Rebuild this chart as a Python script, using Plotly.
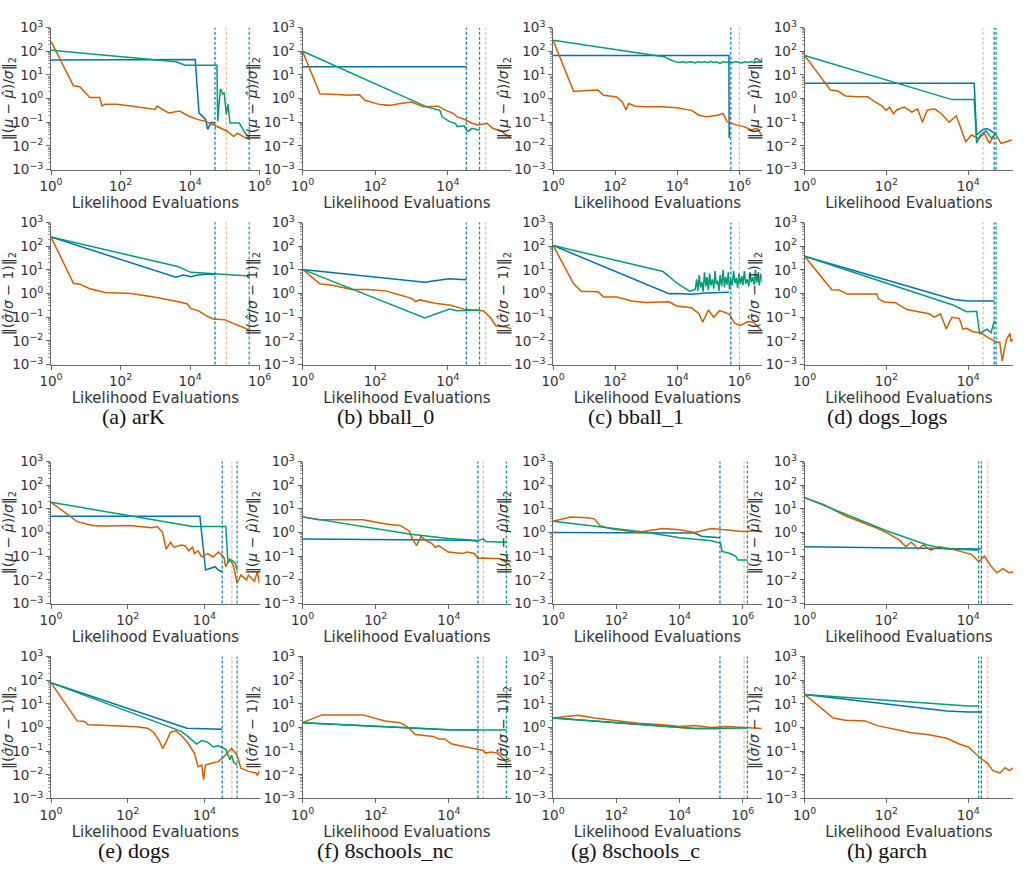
import plotly.graph_objects as go

W, H = 1034, 878
BLUE = '#0173b2'
ORANGE = '#d55e00'
GREEN = '#029e73'
DASH_COL = {'blue': '#0173b2', 'orange': 'rgba(213,94,0,0.45)', 'green': '#029e73'}

X_TICKS = [1, 1e2, 1e4, 1e6]
X_TICKTEXT = ['10<sup>0</sup>', '10<sup>2</sup>', '10<sup>4</sup>', '10<sup>6</sup>']
Y_TICKS = [1e-3, 1e-2, 1e-1, 1, 1e1, 1e2, 1e3]
Y_TICKTEXT = ['10<sup>−3</sup>', '10<sup>−2</sup>', '10<sup>−1</sup>', '10<sup>0</sup>',
              '10<sup>1</sup>', '10<sup>2</sup>', '10<sup>3</sup>']
X_LABEL = 'Likelihood Evaluations'
MU_LABEL = '‖(<i>μ</i> − <i>μ̂</i>)/<i>σ</i>‖<sub>2</sub>'
SD_LABEL = '‖(<i>σ̂</i>/<i>σ</i> − 1)‖<sub>2</sub>'

# ---------------- (a) arK ----------------
ark_mu_blue = [(1, 43), (1.4e4, 45), (1.8e4, 0.25), (2.8e4, 0.13), (3.2e4, 0.05), (4.0e4, 0.1), (5.2e4, 0.093)]
ark_mu_green = [(1, 110), (3.9e3, 36), (7.2e3, 26), (5.9e4, 26), (6.2e4, 0.11), (7.4e4, 2.6), (8.5e4, 1.6),
                (9.5e4, 1.8), (1.1e5, 0.21), (1.23e5, 0.58), (1.4e5, 0.093), (2.6e5, 0.093), (3.3e5, 0.05),
                (3.7e5, 0.037), (4.8e5, 0.025), (5.0e5, 0.022)]
ark_mu_orange = [(1, 263), (4.4, 3.5), (6.7, 3.2), (13, 1.12), (25, 1.12), (29, 0.49), (36, 0.58), (75, 0.58),
                 (200, 0.49), (420, 0.42), (1.0e3, 0.35), (1.1e3, 0.49), (2.4e3, 0.25), (5e3, 0.30),
                 (9.3e3, 0.18), (1.7e4, 0.13), (2.8e4, 0.11), (4.6e4, 0.079), (7.6e4, 0.058), (1.1e5, 0.044),
                 (1.8e5, 0.025), (2.3e5, 0.035), (3.3e5, 0.025), (5.4e5, 0.018)]
ark_sd_blue = [(1, 245), (3.9e3, 4.9), (6.3e3, 6.1), (1.05e4, 5.2), (1.7e4, 6.1), (2.8e4, 6.5), (5.2e4, 6.5)]
ark_sd_green = [(1, 245), (4.4e3, 13.8), (1.05e4, 7.9), (2.8e4, 7.2), (9.6e4, 6.1), (5.1e5, 5.5)]
ark_sd_orange = [(1, 245), (4.4, 2.7), (6.7, 2.5), (13, 1.6), (36, 1.1), (200, 1.0), (420, 0.85), (1.1e3, 0.68),
                 (3.9e3, 0.47), (8.1e3, 0.37), (1.05e4, 0.23), (1.7e4, 0.19), (2.8e4, 0.12), (4.6e4, 0.085),
                 (9.6e4, 0.079), (2e5, 0.051), (3.3e5, 0.037), (5.7e5, 0.027)]
ark_vlines = {'blue': 5.2e4, 'orange': 1.1e5, 'green': 5.0e5}

# ---------------- (b) bball_0 ----------------
bb0_mu_blue = [(1, 22), (3.2e4, 22)]
bb0_mu_green = [(1, 100), (2.6e3, 0.45), (6e3, 0.32), (6.9e3, 0.17), (1.1e4, 0.107), (1.6e4, 0.091),
                (1.8e4, 0.066), (2.8e4, 0.072), (3.2e4, 0.048), (3.6e4, 0.042), (4.6e4, 0.056), (7.4e4, 0.046)]
bb0_mu_orange = [(1, 100), (3.0, 1.6), (8.9, 1.5), (18, 1.4), (37, 1.45), (52, 0.85), (135, 0.56), (245, 0.52),
                 (500, 0.62), (1e3, 0.72), (2.1e3, 0.45), (5.4e3, 0.48), (8.7e3, 0.32), (1.4e4, 0.24),
                 (1.8e4, 0.17), (2.8e4, 0.135), (4.6e4, 0.091), (6.5e4, 0.078), (1.2e5, 0.091), (1.7e5, 0.056),
                 (3e5, 0.042), (4.4e5, 0.026), (5.5e5, 0.023)]
bb0_sd_blue = [(1, 10.5), (2.3e3, 3.0), (4.3e3, 3.5), (1.1e4, 4.2), (3.2e4, 3.8)]
bb0_sd_green = [(1, 10.5), (2.3e3, 0.093), (1.1e4, 0.22), (1.8e4, 0.19), (7.4e4, 0.2)]
bb0_sd_orange = [(1, 10.5), (3.0, 2.6), (7.0, 2.2), (23, 1.5), (59, 1.5), (195, 1.3), (500, 0.85), (1e3, 0.63),
                 (1.3e3, 0.46), (1.7e3, 0.54), (4.3e3, 0.39), (1.1e4, 0.33), (2.8e4, 0.22), (4.6e4, 0.2),
                 (9.3e4, 0.19), (1.5e5, 0.093), (2.1e5, 0.043), (3.5e5, 0.04), (5.5e5, 0.033)]
bb0_vlines = {'blue': 3.2e4, 'orange': 1.1e5, 'green': 7.4e4}

# ---------------- (c) bball_1 ----------------
bb1_mu_blue = [(1, 66), (4.6e5, 66), (4.7e5, 0.022), (4.8e5, 0.04), (5.0e5, 0.035)]
bb1_mu_green = [(1, 290), (4.1e3, 58), (5.4e3, 46), (9.5e3, 35), (1.2e4, 34), (1.5e4, 37), (1.9e4, 33),
                (2.4e4, 36), (3e4, 35), (3.8e4, 32), (4.8e4, 37), (6e4, 34), (7.6e4, 36), (9.5e4, 33),
                (1.2e5, 38), (1.5e5, 34), (1.9e5, 35), (2.4e5, 31), (3e5, 37), (3.8e5, 34), (4.8e5, 36),
                (6e5, 33), (7.6e5, 37), (9.5e5, 35), (1.2e6, 32), (1.5e6, 36), (1.9e6, 34), (2.4e6, 37),
                (3e6, 33), (3.8e6, 36), (4.8e6, 34), (5.5e6, 35)]
bb1_mu_orange = [(1, 290), (4.6, 2.0), (12, 2.2), (28, 2.3), (42, 1.4), (112, 1.17), (170, 0.72), (224, 0.33),
                 (270, 0.62), (450, 0.48), (1e3, 0.45), (3.1e3, 0.45), (9.5e3, 0.41), (2.9e4, 0.32),
                 (5e4, 0.2), (8.7e4, 0.17), (2e5, 0.2), (3e5, 0.24), (4e5, 0.107), (8e5, 0.078),
                 (1.4e6, 0.066), (2.4e6, 0.048), (3.7e6, 0.056), (5.2e6, 0.03)]
bb1_sd_blue = [(1, 107), (5.4e3, 0.98), (9.5e3, 1.0), (2.9e4, 0.93), (8.7e4, 1.05), (4.6e5, 1.15)]
bb1_sd_green = [(1, 107), (3.5e3, 8.5), (5.4e3, 5.3), (9.5e3, 2.8), (2.5e4, 1.26), (3.8e4, 1.5),
                (4.2e4, 4), (4.6e4, 1.3), (5.1e4, 6), (5.6e4, 1.8), (6.2e4, 3), (6.8e4, 1.2), (7.5e4, 8),
                (8.3e4, 2), (9.1e4, 5), (1.0e5, 1.4), (1.1e5, 7), (1.2e5, 2.2), (1.35e5, 4), (1.5e5, 1.6),
                (1.65e5, 9), (1.8e5, 2.5), (2.0e5, 3.5), (2.2e5, 1.3), (2.4e5, 6), (2.7e5, 2), (3.0e5, 10),
                (3.3e5, 1.8), (3.6e5, 5), (4.0e5, 2.4), (4.4e5, 8), (4.8e5, 1.5), (5.3e5, 4), (5.9e5, 2.2),
                (6.5e5, 9), (7.2e5, 2.8), (8.0e5, 4.5), (8.8e5, 1.7), (9.7e5, 7), (1.07e6, 2.5), (1.2e6, 5.5),
                (1.3e6, 2.2), (1.45e6, 9), (1.6e6, 2.6), (1.8e6, 4), (2.0e6, 2), (2.2e6, 8), (2.4e6, 3),
                (2.7e6, 5), (3.0e6, 2.4), (3.3e6, 10), (3.6e6, 2.8), (4.0e6, 6), (4.4e6, 2.2), (4.9e6, 7),
                (5.4e6, 3)]
bb1_sd_orange = [(1, 107), (4.6, 2.6), (8, 1.26), (28, 1.2), (42, 0.72), (112, 0.72), (340, 0.49), (1e3, 0.42),
                 (5.4e3, 0.45), (9.5e3, 0.3), (2.9e4, 0.25), (5e4, 0.14), (6.6e4, 0.062), (1e5, 0.2),
                 (1.5e5, 0.1), (2.3e5, 0.19), (4.6e5, 0.14), (7e5, 0.056), (1.05e6, 0.045), (1.9e6, 0.066),
                 (2.8e6, 0.062), (5.2e6, 0.028)]
bb1_vlines = {'blue': 5.3e5, 'orange': 1.0e6}

# ---------------- (d) dogs_logs ----------------
dgl_mu_blue = [(1, 4.5), (1.4e4, 4.5), (1.6e4, 0.029), (2.2e4, 0.047), (2.7e4, 0.055), (3.3e4, 0.049), (4.2e4, 0.036)]
dgl_mu_green = [(1, 66), (4e3, 0.91), (1.4e4, 0.91), (1.6e4, 0.013), (2e4, 0.029), (2.7e4, 0.044),
                (3.7e4, 0.021), (4.6e4, 0.034)]
dgl_mu_orange = [(1, 66), (4.3, 2.3), (6.5, 2.1), (10, 1.3), (19, 1.2), (35, 1.2), (52, 0.74), (79, 0.48),
                 (98, 0.32), (120, 0.44), (148, 0.23), (182, 0.34), (275, 0.44), (420, 0.27), (575, 0.37),
                 (760, 0.1), (980, 0.32), (1.5e3, 0.37), (2.2e3, 0.23), (3.4e3, 0.1), (5.1e3, 0.19),
                 (6.3e3, 0.065), (8.7e3, 0.015), (1.2e4, 0.029), (1.8e4, 0.021), (2.5e4, 0.034),
                 (3.3e4, 0.013), (4.6e4, 0.034), (6.3e4, 0.013), (8.5e4, 0.015), (1.17e5, 0.018)]
dgl_sd_blue = [(1, 38), (4.4e3, 0.56), (1e4, 0.48), (2.1e4, 0.47), (4.3e4, 0.48)]
dgl_sd_green = [(1, 38), (4.4e3, 0.32), (9.1e3, 0.17), (1.6e4, 0.18), (1.9e4, 0.021), (2.9e4, 0.031),
                (3.6e4, 0.022), (4.3e4, 0.065), (4.8e4, 0.055)]
dgl_sd_orange = [(1, 38), (4.6, 1.45), (7, 1.4), (11, 0.95), (58, 0.95), (64, 0.6), (88, 0.44), (165, 0.41),
                 (315, 0.21), (590, 0.17), (1.1e3, 0.14), (1.5e3, 0.1), (2.1e3, 0.14), (2.9e3, 0.032),
                 (4e3, 0.1), (6e3, 0.09), (7.4e3, 0.032), (9.1e3, 0.034), (1.26e4, 0.025), (2.1e4, 0.021),
                 (3.2e4, 0.013), (5e4, 0.0087), (5.9e4, 0.0087), (6.8e4, 0.0014), (8.5e4, 0.011),
                 (1.05e5, 0.021), (1.1e5, 0.0095), (1.3e5, 0.012)]
dgl_vlines = {'orange': 2.3e4, 'blue': 4.3e4, 'green': 4.8e4}

# ---------------- (e) dogs ----------------
dogs_mu_blue = [(1, 4.9), (7.6e3, 4.9), (1.07e4, 0.026), (1.5e4, 0.031), (1.9e4, 0.036), (2.3e4, 0.026), (2.9e4, 0.022)]
dogs_mu_green = [(1, 19), (4.9e3, 1.8), (3.6e4, 1.8), (4.1e4, 0.058), (5.1e4, 0.068), (6.4e4, 0.05), (7.1e4, 0.026)]
dogs_mu_orange = [(1, 19), (4.8, 2.9), (12, 2.0), (23, 1.9), (110, 2.0), (215, 1.74), (420, 1.6), (590, 1.8),
                  (810, 1.0), (1e3, 0.2), (1.3e3, 0.39), (1.6e3, 0.24), (2.5e3, 0.3), (3.1e3, 0.28),
                  (3.9e3, 0.17), (4.9e3, 0.24), (5.5e3, 0.13), (6.8e3, 0.17), (8.5e3, 0.093), (1.2e4, 0.13),
                  (1.7e4, 0.093), (2.3e4, 0.15), (3.2e4, 0.093), (3.6e4, 0.036), (4.6e4, 0.079), (5.8e4, 0.036),
                  (6.4e4, 0.016), (7.1e4, 0.0074), (8.9e4, 0.016), (1.26e5, 0.01), (1.4e5, 0.016),
                  (2e5, 0.0087), (2.4e5, 0.022), (2.7e5, 0.0074)]
dogs_sd_blue = [(1, 77), (3.5e3, 0.93), (2.9e4, 0.85)]
dogs_sd_green = [(1, 77), (2.5e3, 0.69), (3.9e3, 0.39), (6.2e3, 0.2), (8.5e3, 0.28), (1.2e4, 0.24),
                 (1.7e4, 0.15), (2.3e4, 0.17), (3.6e4, 0.12), (4.6e4, 0.043), (5.1e4, 0.068), (5.8e4, 0.033),
                 (7.1e4, 0.026)]
dogs_sd_orange = [(1, 77), (4.8, 1.9), (7.5, 1.8), (9.3, 1.3), (45, 1.17), (170, 1.07), (330, 0.93), (470, 0.63),
                  (660, 0.28), (810, 0.13), (1e3, 0.24), (1.3e3, 0.63), (1.8e3, 0.72), (2.5e3, 0.46),
                  (3.9e3, 0.2), (5.5e3, 0.079), (6.8e3, 0.022), (8.5e3, 0.026), (9.5e3, 0.0063),
                  (1.07e4, 0.026), (1.5e4, 0.031), (2.3e4, 0.036), (3.2e4, 0.058), (4.1e4, 0.093),
                  (5.1e4, 0.13), (7.1e4, 0.068), (8.9e4, 0.019), (1.4e5, 0.014), (2.2e5, 0.012),
                  (2.4e5, 0.0093), (2.7e5, 0.015)]
dogs_vlines = {'blue': 2.9e4, 'orange': 5.2e4, 'green': 7.1e4}

# ---------------- (f) 8schools_nc ----------------
snc_mu_blue = [(1, 0.53), (1e3, 0.5), (3.2e4, 0.47), (6.2e4, 0.43)]
snc_mu_green = [(1, 4.6), (920, 0.85), (9.5e3, 0.56), (6.2e4, 0.46), (8.7e4, 0.54), (1e5, 0.42), (3.7e5, 0.39)]
snc_mu_orange = [(1, 4.6), (2.7, 3.5), (44, 3.5), (230, 2.2), (460, 2.0), (580, 1.6), (820, 1.17), (1e3, 0.54),
                 (1.3e3, 0.28), (1.7e3, 0.69), (2.1e3, 0.54), (2.6e3, 0.42), (3.3e3, 0.36), (4.2e3, 0.24),
                 (5.3e3, 0.28), (9.5e3, 0.15), (2.4e4, 0.13), (3.1e4, 0.15), (4.9e4, 0.13), (6.2e4, 0.079),
                 (7.8e4, 0.085), (2.5e5, 0.079), (4e5, 0.049), (4.9e5, 0.036)]
snc_sd_blue = [(1, 1.6), (920, 0.95), (9.5e3, 0.81), (6.2e4, 0.78)]
snc_sd_green = [(1, 1.6), (920, 0.95), (9.5e3, 0.81), (6.2e4, 0.78), (3.7e5, 0.78)]
snc_sd_orange = [(1, 1.6), (3.4, 3.4), (44, 3.4), (180, 1.9), (460, 1.6), (730, 1.07), (1.2e3, 0.5),
                 (1.9e3, 0.46), (3.7e3, 0.42), (5.3e3, 0.33), (7.6e3, 0.33), (1.2e4, 0.2), (2.4e4, 0.16),
                 (3.9e4, 0.14), (6.2e4, 0.115), (8.7e4, 0.107), (1e5, 0.083), (1.4e5, 0.091), (2e5, 0.083),
                 (2.5e5, 0.066), (3.6e5, 0.035), (4.9e5, 0.041)]
snc_vlines = {'blue': 6.2e4, 'orange': 8.7e4, 'green': 3.7e5}

# ---------------- (g) 8schools_c ----------------
sc_mu_blue = [(1, 1.0), (1e4, 1.0), (3e4, 0.95), (5e4, 0.7), (1.2e5, 0.65), (1.9e5, 0.6)]
sc_mu_green = [(1, 3.0), (100, 1.5), (1e3, 1.0), (1e4, 0.6), (5e4, 0.5), (1e5, 0.45), (2.0e5, 0.35),
               (2.2e5, 0.16), (4e5, 0.13), (6e5, 0.1), (7e5, 0.07), (1.4e6, 0.07)]
sc_mu_orange = [(1, 3.0), (3.5, 4.5), (12, 4.2), (20, 3.8), (30, 2.0), (60, 1.5), (200, 1.2), (500, 1.0),
                (1e3, 1.2), (3e3, 1.5), (1e4, 1.3), (3e4, 1.0), (1e5, 1.5), (3e5, 1.3), (1e6, 1.1),
                (3e6, 1.2), (4e6, 1.1)]
sc_sd_blue = [(1, 2.5), (100, 1.6), (1e3, 1.3), (1e4, 1.0), (3e4, 0.9), (1e5, 0.9), (1.9e5, 0.9)]
sc_sd_green = [(1, 2.5), (100, 1.6), (1e3, 1.3), (1e4, 1.0), (3e4, 0.9), (1e5, 0.9), (5e5, 0.95), (1.4e6, 0.95)]
sc_sd_orange = [(1, 2.5), (6, 3.3), (20, 2.5), (100, 2.0), (500, 1.5), (3e3, 1.3), (1e4, 1.1), (3e4, 1.2),
                (1e5, 1.0), (3e5, 1.1), (1e6, 1.0), (4e6, 0.9)]
sc_vlines = {'blue': 1.9e5, 'orange': 1.1e6, 'green': 1.4e6}

# ---------------- (h) garch ----------------
garch_mu_blue = [(1, 0.25), (2.1e4, 0.2)]
garch_mu_green = [(1, 30), (10, 6), (100, 1.2), (1e3, 0.3), (3e3, 0.2), (1e4, 0.19), (1.8e4, 0.18)]
garch_mu_orange = [(1, 30), (3, 15), (10, 5), (30, 2.5), (60, 1.5), (100, 1.0), (200, 0.5), (300, 0.25),
                   (400, 0.4), (600, 0.2), (800, 0.3), (1.2e3, 0.18), (2e3, 0.25), (4e3, 0.2), (8e3, 0.15),
                   (1.2e4, 0.12), (1.8e4, 0.06), (2.5e4, 0.1), (3.5e4, 0.04), (5e4, 0.02), (7e4, 0.03),
                   (1e5, 0.02), (1.3e5, 0.022)]
garch_sd_blue = [(1, 25), (3e3, 5), (1e4, 4.5), (2.1e4, 4.5)]
garch_sd_green = [(1, 25), (3e3, 9), (1e4, 8), (1.8e4, 8)]
garch_sd_orange = [(1, 25), (5, 2.5), (10, 2.0), (30, 1.9), (60, 1.2), (100, 1.0), (200, 0.8), (400, 0.6),
                   (1e3, 0.5), (2e3, 0.4), (3e3, 0.35), (6e3, 0.2), (1e4, 0.15), (1.5e4, 0.08), (2e4, 0.05),
                   (3e4, 0.03), (4e4, 0.015), (6e4, 0.012), (8e4, 0.02), (1e5, 0.015), (1.3e5, 0.02)]
garch_vlines = {'green': 1.8e4, 'blue': 2.1e4, 'orange': 3.0e4}

captions = ['(a) arK', '(b) bball_0', '(c) bball_1', '(d) dogs_logs',
            '(e) dogs', '(f) 8schools_nc', '(g) 8schools_c', '(h) garch']
x_max_log = [6.0, 5.74, 6.72, 5.1, 5.44, 5.7, 6.6, 5.1]

panels = [
    (ark_mu_blue, ark_mu_orange, ark_mu_green, ark_sd_blue, ark_sd_orange, ark_sd_green, ark_vlines),
    (bb0_mu_blue, bb0_mu_orange, bb0_mu_green, bb0_sd_blue, bb0_sd_orange, bb0_sd_green, bb0_vlines),
    (bb1_mu_blue, bb1_mu_orange, bb1_mu_green, bb1_sd_blue, bb1_sd_orange, bb1_sd_green, bb1_vlines),
    (dgl_mu_blue, dgl_mu_orange, dgl_mu_green, dgl_sd_blue, dgl_sd_orange, dgl_sd_green, dgl_vlines),
    (dogs_mu_blue, dogs_mu_orange, dogs_mu_green, dogs_sd_blue, dogs_sd_orange, dogs_sd_green, dogs_vlines),
    (snc_mu_blue, snc_mu_orange, snc_mu_green, snc_sd_blue, snc_sd_orange, snc_sd_green, snc_vlines),
    (sc_mu_blue, sc_mu_orange, sc_mu_green, sc_sd_blue, sc_sd_orange, sc_sd_green, sc_vlines),
    (garch_mu_blue, garch_mu_orange, garch_mu_green, garch_sd_blue, garch_sd_orange, garch_sd_green, garch_vlines),
]

# layout geometry (pixels)
COL_LEFT = [38, 296, 553, 811]
AX_W = 214
ROW_TOP = [18, 217, 461, 660]
AX_H = 145
CAP_Y = [415, 858]

TEXT = '#333333'
SPINE = '#666666'
FONT = 'DejaVu Sans'

fig = go.Figure()
layout = dict(width=W, height=H, margin=dict(l=0, r=0, t=0, b=0), paper_bgcolor='white',
              plot_bgcolor='white', showlegend=False, font=dict(family=FONT, color=TEXT, size=13))
shapes = []
annotations = []

k = 0
for p, data in enumerate(panels):
    grp, col = divmod(p, 4)
    for r in range(2):
        k += 1
        xa = 'x' if k == 1 else f'x{k}'
        ya = 'y' if k == 1 else f'y{k}'
        top = ROW_TOP[grp * 2 + r]
        left = COL_LEFT[col]
        series = data[0:3] if r == 0 else data[3:6]
        for pts, colr in [(series[0], BLUE), (series[1], ORANGE), (series[2], GREEN)]:
            fig.add_trace(go.Scatter(x=[a for a, b in pts], y=[b for a, b in pts], mode='lines',
                                     line=dict(color=colr, width=1.5), xaxis=xa, yaxis=ya,
                                     hoverinfo='skip'))
        for name, val in data[6].items():
            shapes.append(dict(type='line', xref=xa, yref=f'{ya} domain', x0=val, x1=val, y0=0, y1=1,
                               line=dict(color=DASH_COL[name], width=1.2, dash='3px,2px')))
        axis_common = dict(type='log', showgrid=False, zeroline=False, showline=True, linecolor=SPINE,
                           linewidth=1, ticks='outside', ticklen=4, tickwidth=1, tickcolor=SPINE,
                           tickfont=dict(family=FONT, size=13.5, color=TEXT))
        layout['xaxis' if k == 1 else f'xaxis{k}'] = dict(
            axis_common, anchor=ya, domain=[left / W, (left + AX_W) / W],
            range=[0, x_max_log[p]], tickvals=X_TICKS, ticktext=X_TICKTEXT,
            title=dict(text=X_LABEL, font=dict(family=FONT, size=15, color=TEXT), standoff=1))
        layout['yaxis' if k == 1 else f'yaxis{k}'] = dict(
            axis_common, anchor=xa, domain=[1 - (top + AX_H) / H, 1 - top / H],
            range=[-3, 3], tickvals=Y_TICKS, ticktext=Y_TICKTEXT,
            minor=dict(ticks='outside', ticklen=2, tickcolor='#999999', dtick='D1', showgrid=False),
            title=dict(text=MU_LABEL if r == 0 else SD_LABEL,
                       font=dict(family=FONT, size=14, color=TEXT), standoff=2))
    cx = (COL_LEFT[col] + AX_W / 2 - 22) / W
    annotations.append(dict(text=captions[p], xref='paper', yref='paper', x=cx, y=1 - CAP_Y[grp] / H,
                            showarrow=False, xanchor='center', yanchor='middle',
                            font=dict(family='Liberation Serif', size=22, color='#111111')))

layout['shapes'] = shapes
layout['annotations'] = annotations
fig.update_layout(**layout)
fig.write_html('out.html')
